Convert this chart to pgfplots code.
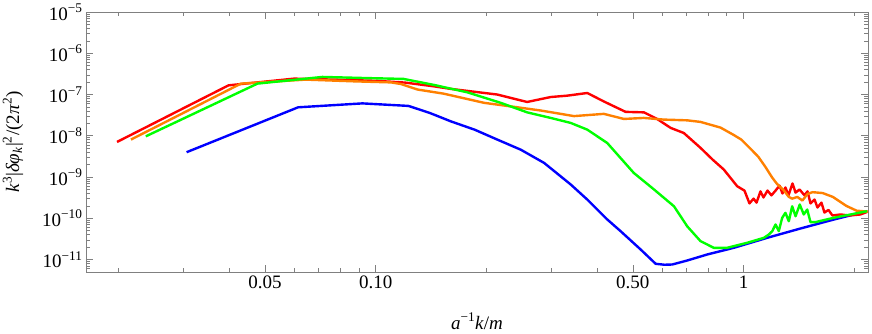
\documentclass[border=0pt]{standalone}
\usepackage{fontspec}
\setmainfont{Liberation Serif}
\usepackage{pgfplots}
\pgfplotsset{compat=1.18}
\definecolor{mmaorange}{rgb}{1,0.5,0}
\newcommand{\tfont}{\fontsize{19bp}{22bp}\selectfont}
\newcommand{\pten}[1]{10\textsuperscript{−#1}}

\begin{document}
\begin{tikzpicture}
\begin{axis}[
  scale only axis, width=782bp, height=260bp,
  xmode=log, ymode=log,
  xmin=0.0163, xmax=2.18, ymin=5e-12, ymax=1e-5,
  axis line style={black!50, line width=0.8bp},
  tick style={black!50, line width=0.6bp},
  tick align=inside, tick pos=both,
  major tick length=7bp, minor tick length=4bp,
  xtick={0.05,0.1,0.5,1}, xticklabels={0.05,0.10,0.50,1},
  minor xtick={0.02,0.03,0.04,0.06,0.07,0.08,0.09,0.2,0.3,0.4,0.6,0.7,0.8,0.9,2},
  ytick={1e-11,1e-10,1e-9,1e-8,1e-7,1e-6,1e-5},
  yticklabels={\pten{11},\pten{10},\pten{9},\pten{8},\pten{7},\pten{6},\pten{5}},
  minor ytick={6e-12,7e-12,8e-12,9e-12,
    2e-11,3e-11,4e-11,5e-11,6e-11,7e-11,8e-11,9e-11,
    2e-10,3e-10,4e-10,5e-10,6e-10,7e-10,8e-10,9e-10,
    2e-9,3e-9,4e-9,5e-9,6e-9,7e-9,8e-9,9e-9,
    2e-8,3e-8,4e-8,5e-8,6e-8,7e-8,8e-8,9e-8,
    2e-7,3e-7,4e-7,5e-7,6e-7,7e-7,8e-7,9e-7,
    2e-6,3e-6,4e-6,5e-6,6e-6,7e-6,8e-6,9e-6},
  tick label style={font=\tfont, text=black},
  every axis y label/.style={at={(axis description cs:-0.0934,0.5)}, rotate=90, anchor=center, font=\tfont},
  every axis x label/.style={at={(axis description cs:0.5,-0.19)}, anchor=center, font=\tfont},
  xlabel={\textit{a}\textsuperscript{−1}\textit{k}/\textit{m}},
  ylabel={\textit{k}\textsuperscript{3}|\textit{δφ}\textsubscript{\textit{k}}|\textsuperscript{2}/(2\textit{π}\textsuperscript{2})},
  every axis plot/.append style={line width=2.4bp, line join=round, mark=none},
]
\coordinate (sw) at (rel axis cs:0,0);
\coordinate (ne) at (rel axis cs:1,1);

% blue
\addplot[blue] coordinates {
  (0.0306,4.0e-9) (0.0615,4.9e-8) (0.092,6.1e-8) (0.1227,5.3e-8)
  (0.140,3.6e-8) (0.160,2.24e-8) (0.186,1.4e-8) (0.214,8.1e-9)
  (0.248,4.6e-9) (0.287,2.2e-9) (0.339,6.6e-10) (0.376,2.85e-10)
  (0.426,9.4e-11) (0.463,4.9e-11) (0.525,1.76e-11) (0.577,7.9e-12)
  (0.610,7.5e-12) (0.640,7.6e-12) (0.703,9.5e-12) (0.797,1.33e-11)
  (0.941,1.93e-11) (1.160,3.37e-11) (1.428,5.66e-11) (1.760,9.35e-11)
  (2.168,1.49e-10)
};

% red
\addplot[red] coordinates {
  (0.0198,7.1e-9) (0.0398,1.67e-7) (0.0600,2.43e-7) (0.0800,2.28e-7)
  (0.100,2.15e-7) (0.120,1.95e-7) (0.144,1.58e-7) (0.160,1.37e-7)
  (0.214,1.0e-7) (0.258,6.6e-8) (0.299,8.7e-8) (0.332,9.4e-8)
  (0.376,1.09e-7) (0.417,6.8e-8) (0.444,5.2e-8) (0.478,3.8e-8)
  (0.536,3.7e-8) (0.582,2.56e-8) (0.634,1.55e-8) (0.688,1.17e-8)
  (0.764,5.1e-9) (0.824,2.65e-9) (0.884,1.52e-9) (0.961,6.0e-10)
  (1.006,4.7e-10) (1.038,2.3e-10) (1.065,3.0e-10) (1.085,2.4e-10)
  (1.112,4.5e-10) (1.133,3.2e-10) (1.162,4.7e-10) (1.191,3.6e-10)
  (1.222,4.7e-10) (1.253,6.2e-10) (1.276,4.0e-10) (1.300,5.6e-10)
  (1.325,3.6e-10) (1.359,7.0e-10) (1.385,4.2e-10) (1.420,5.0e-10)
  (1.465,3.6e-10) (1.493,4.5e-10) (1.521,2.3e-10) (1.560,2.85e-10)
  (1.589,1.83e-10) (1.629,2.4e-10) (1.660,1.38e-10) (1.702,1.6e-10)
  (1.745,1.17e-10) (1.835,1.24e-10) (1.941,1.17e-10) (2.079,1.24e-10)
  (2.18,1.46e-10)
};

% orange
\addplot[mmaorange] coordinates {
  (0.0216,8.1e-9) (0.0430,1.84e-7) (0.0645,2.3e-7) (0.0871,2.09e-7)
  (0.110,1.97e-7) (0.117,1.8e-7) (0.130,1.32e-7) (0.153,1.05e-7)
  (0.197,6.3e-8) (0.243,4.9e-8) (0.281,4.1e-8) (0.346,3.0e-8)
  (0.417,3.4e-8) (0.473,2.56e-8) (0.536,2.71e-8) (0.607,2.47e-8)
  (0.703,2.37e-8) (0.764,2.17e-8) (0.866,1.58e-8) (0.940,1.05e-8)
  (0.986,8.1e-9) (1.051,4.6e-9) (1.097,3.1e-9) (1.145,1.8e-9)
  (1.194,1.0e-9) (1.232,6.9e-10) (1.286,4.8e-10) (1.328,3.3e-10)
  (1.356,3.0e-10) (1.400,3.3e-10) (1.446,2.7e-10) (1.493,3.9e-10)
  (1.541,4.3e-10) (1.641,4.1e-10) (1.750,3.3e-10) (1.904,2.0e-10)
  (2.030,1.53e-10) (2.18,1.45e-10)
};

% green
\addplot[green] coordinates {
  (0.0237,9.7e-9) (0.0477,1.84e-7) (0.0716,2.67e-7) (0.0952,2.5e-7)
  (0.119,2.39e-7) (0.144,1.71e-7) (0.1775,1.13e-7) (0.2186,6.3e-8)
  (0.258,3.7e-8) (0.299,2.71e-8) (0.339,2.05e-8) (0.376,1.41e-8)
  (0.426,6.7e-9) (0.503,1.26e-9) (0.571,5.0e-10) (0.647,1.96e-10)
  (0.703,6.4e-11) (0.764,2.8e-11) (0.830,1.93e-11) (0.903,1.93e-11)
  (1.023,2.55e-11) (1.136,3.37e-11) (1.172,4.05e-11) (1.197,4.87e-11)
  (1.222,7.1e-11) (1.247,4.9e-11) (1.274,1.03e-10) (1.300,1.36e-10)
  (1.328,8.5e-11) (1.356,1.96e-10) (1.385,1.12e-10) (1.422,2.16e-10)
  (1.458,1.24e-10) (1.490,1.63e-10) (1.521,8.1e-11) (1.569,8.1e-11)
  (1.760,1.03e-10) (2.168,1.49e-10)
};
\end{axis}
\pgfresetboundingbox
\path[use as bounding box] ([shift={(-86bp,-62bp)}]sw) rectangle ([shift={(4bp,12bp)}]ne);
\end{tikzpicture}
\end{document}
